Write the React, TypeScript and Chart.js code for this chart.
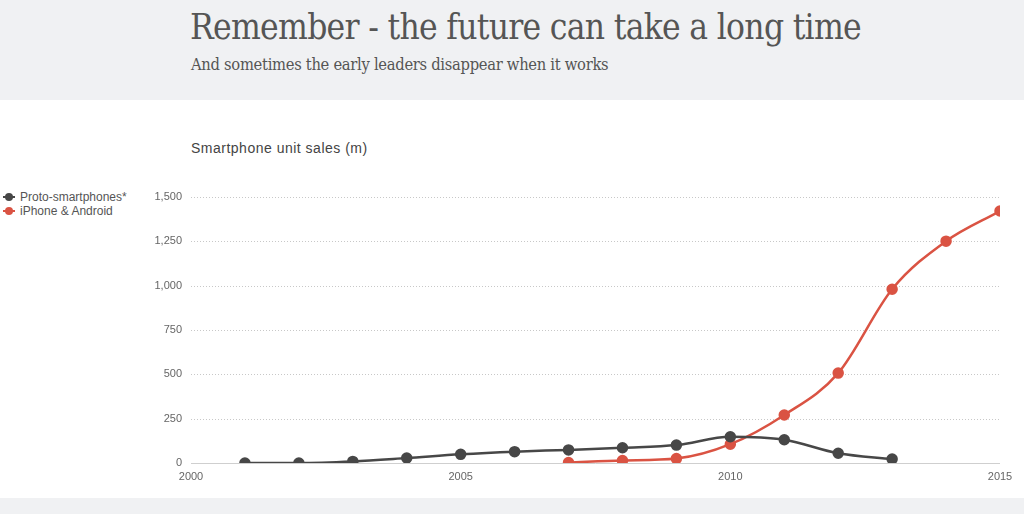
import { useEffect, useRef } from 'react';
import { Chart, registerables } from 'chart.js';

Chart.register(...registerables);

const protoYears = [2001, 2002, 2003, 2004, 2005, 2006, 2007, 2008, 2009, 2010, 2011, 2012, 2013];
const protoSales = [0, 0, 9, 28, 49, 64, 74, 86, 101, 148, 131, 55, 22];

const modernYears = [2007, 2008, 2009, 2010, 2011, 2012, 2013, 2014, 2015];
const modernSales = [3, 14, 25, 106, 271, 507, 980, 1251, 1421];

const yTicks = [0, 250, 500, 750, 1000, 1250, 1500];
const xTicks = [2000, 2005, 2010, 2015];

const GREY = '#474747';
const RED = '#da5343';
const SANS = '"Liberation Sans", Arial, sans-serif';
const SERIF = '"DejaVu Serif Condensed", "DejaVu Serif", serif';

// dotted horizontal grid, solid zero line
const dottedGrid = {
  id: 'dottedGrid',
  beforeDatasetsDraw(chart: Chart) {
    const { ctx, chartArea } = chart;
    const ys = chart.scales.y;
    ctx.save();
    ctx.lineWidth = 1;
    yTicks.forEach((v) => {
      const py = Math.round(ys.getPixelForValue(v)) + 0.5;
      ctx.beginPath();
      if (v === 0) {
        ctx.setLineDash([]);
        ctx.strokeStyle = '#cfcfcf';
      } else {
        ctx.setLineDash([1, 2]);
        ctx.strokeStyle = '#c8c8c8';
      }
      ctx.moveTo(chartArea.left, py);
      ctx.lineTo(chartArea.right, py);
      ctx.stroke();
    });
    ctx.restore();
  },
};

export default function App() {
  const canvasRef = useRef<HTMLCanvasElement>(null);
  const chartRef = useRef<Chart | null>(null);

  useEffect(() => {
    if (!canvasRef.current) return;
    if (chartRef.current) chartRef.current.destroy();

    chartRef.current = new Chart(canvasRef.current, {
      type: 'line',
      data: {
        datasets: [
          {
            label: 'Proto-smartphones*',
            data: protoYears.map((y, i) => ({ x: y, y: protoSales[i] })),
            borderColor: GREY,
            backgroundColor: GREY,
            borderWidth: 2.5,
            pointRadius: 4.5,
            pointHoverRadius: 5,
            cubicInterpolationMode: 'monotone',
          },
          {
            label: 'iPhone & Android',
            data: modernYears.map((y, i) => ({ x: y, y: modernSales[i] })),
            borderColor: RED,
            backgroundColor: RED,
            borderWidth: 2.5,
            pointRadius: 4.5,
            pointHoverRadius: 5,
            cubicInterpolationMode: 'monotone',
          },
        ],
      },
      options: {
        responsive: false,
        animation: false,
        layout: { padding: { top: 97, right: 24, bottom: 0, left: 0 } },
        plugins: {
          legend: { display: false },
          tooltip: { enabled: false },
        },
        scales: {
          x: {
            type: 'linear',
            min: 2000,
            max: 2015,
            afterBuildTicks: (s) => {
              s.ticks = xTicks.map((v) => ({ value: v }));
            },
            afterFit: (s) => {
              s.height = 35;
            },
            border: { display: false },
            grid: { display: false, drawTicks: false },
            ticks: {
              color: '#666',
              font: { family: SANS, size: 11 },
              padding: 7,
              callback: (v) => String(v),
            },
          },
          y: {
            min: 0,
            max: 1500,
            afterBuildTicks: (s) => {
              s.ticks = yTicks.map((v) => ({ value: v }));
            },
            afterFit: (s) => {
              s.width = 191;
            },
            border: { display: false },
            grid: { display: false, drawTicks: false },
            ticks: {
              color: '#666',
              font: { family: SANS, size: 11 },
              padding: 9,
              callback: (v) => Number(v).toLocaleString('en-US'),
            },
          },
        },
      },
      plugins: [dottedGrid],
    });

    return () => {
      chartRef.current?.destroy();
      chartRef.current = null;
    };
  }, []);

  const marker = (color: string) => (
    <span
      style={{
        display: 'inline-block',
        position: 'relative',
        width: 12,
        height: 8,
        marginRight: 5,
        verticalAlign: 'middle',
        top: -1,
      }}
    >
      <span style={{ position: 'absolute', left: 0, top: 3, width: 12, height: 2, background: color }} />
      <span
        style={{ position: 'absolute', left: 2, top: 0, width: 8, height: 8, borderRadius: 4, background: color }}
      />
    </span>
  );

  return (
    <div
      style={{
        position: 'fixed',
        left: 0,
        top: 0,
        width: 1024,
        height: 514,
        background: '#fff',
        overflow: 'hidden',
        fontFamily: SANS,
      }}
    >
      <div style={{ position: 'absolute', left: 0, top: 0, width: 1024, height: 100, background: '#f0f1f3' }}>
        <div
          style={{
            position: 'absolute',
            left: 190,
            top: 7,
            fontFamily: SERIF,
            fontSize: 35,
            color: '#555',
            whiteSpace: 'nowrap',
            letterSpacing: -0.7,
          }}
        >
          Remember - the future can take a long time
        </div>
        <div
          style={{
            position: 'absolute',
            left: 191,
            top: 55,
            fontFamily: SERIF,
            fontSize: 16.4,
            color: '#555',
            whiteSpace: 'nowrap',
            letterSpacing: -0.3,
          }}
        >
          And sometimes the early leaders disappear when it works
        </div>
      </div>
      <div style={{ position: 'absolute', left: 0, top: 498, width: 1024, height: 16, background: '#f0f1f3' }} />
      <div
        style={{
          position: 'absolute',
          left: 191,
          top: 140,
          fontSize: 14,
          color: '#444',
          whiteSpace: 'nowrap',
          letterSpacing: 0.5,
        }}
      >
        Smartphone unit sales (m)
      </div>
      <div style={{ position: 'absolute', left: 3, top: 190, fontSize: 12, color: '#555', lineHeight: '14px' }}>
        <div>
          {marker(GREY)}Proto-smartphones*
        </div>
        <div>
          {marker(RED)}iPhone &amp; Android
        </div>
      </div>
      <canvas
        ref={canvasRef}
        width={1024}
        height={398}
        style={{ position: 'absolute', left: 0, top: 100, width: 1024, height: 398 }}
      />
    </div>
  );
}
